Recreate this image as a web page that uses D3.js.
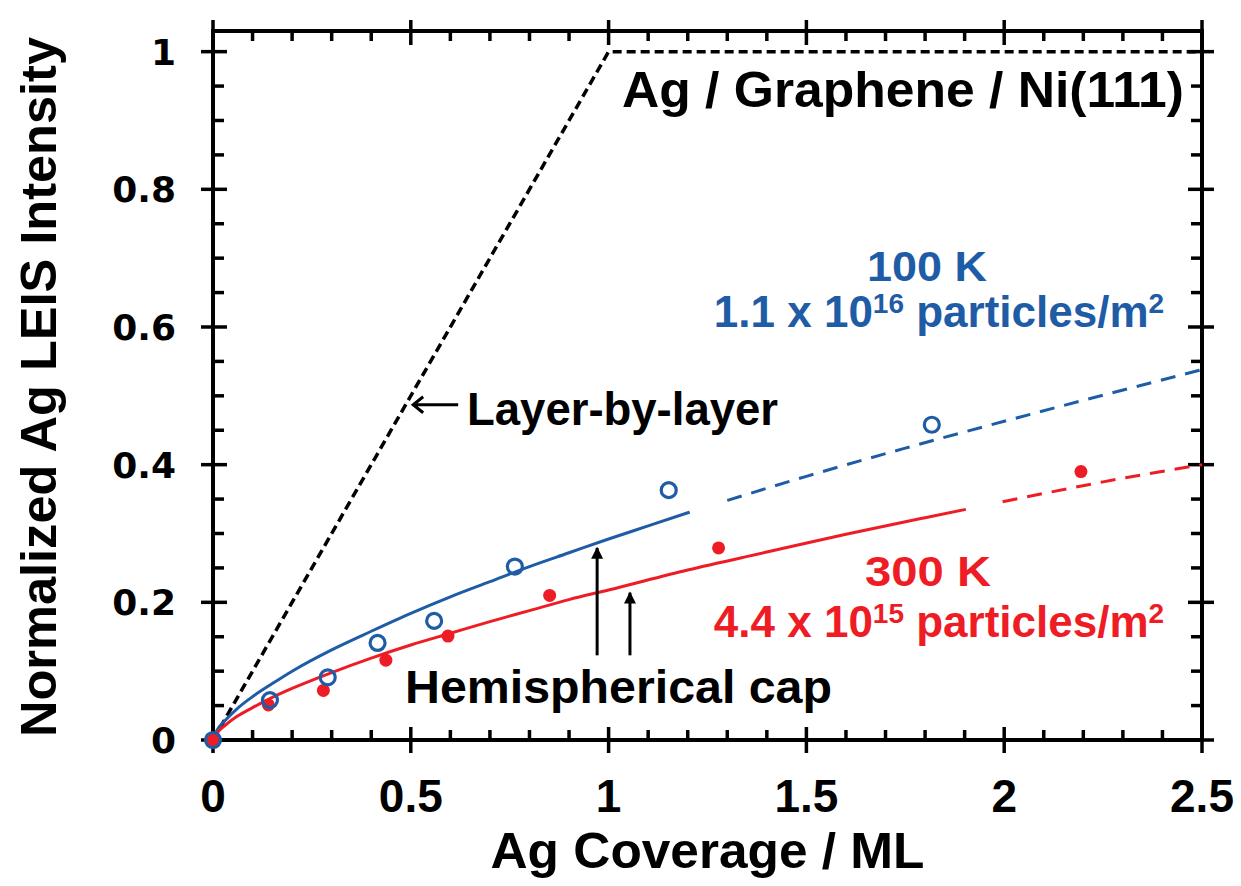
<!DOCTYPE html>
<html lang="en">
<head>
<meta charset="UTF-8">
<title>Ag LEIS Intensity vs Ag Coverage</title>
<script src="https://d3js.org/d3.v7.min.js"></script>
<style>
  body { margin: 0; background: #fff; }
  svg { display: block; }
  text { font-family: "Liberation Sans", Arial, sans-serif; font-weight: bold; }
  .ylab { font-family: "DejaVu Sans", sans-serif; }
</style>
</head>
<body>
<svg id="chart" width="1241" height="886"></svg>
<script>
// measured points (coverage in ML, normalized intensity)
const blueX = [0, 0.144, 0.29, 0.416, 0.559, 0.763, 1.152, 1.817];
const blueY = [0, 0.058, 0.091, 0.141, 0.173, 0.252, 0.363, 0.458];
const redX = [0, 0.14, 0.279, 0.437, 0.594, 0.851, 1.278, 2.194];
const redY = [0, 0.051, 0.072, 0.116, 0.151, 0.21, 0.279, 0.39];

// hemispherical cap model curves
const blueFitX = [0, 0.01, 0.03, 0.06, 0.1, 0.15, 0.2, 0.3, 0.4, 0.5, 0.6, 0.7, 0.8, 0.9, 1.0, 1.1, 1.205];
const blueFitY = [0, 0.014, 0.028, 0.045, 0.063, 0.082, 0.1, 0.131, 0.158, 0.184, 0.208, 0.23, 0.252, 0.272, 0.292, 0.311, 0.331];
const blueExtX = [1.3, 1.5, 1.75, 2.0, 2.25, 2.5];
const blueExtY = [0.348, 0.383, 0.424, 0.463, 0.501, 0.538];
const redFitX = [0, 0.01, 0.03, 0.06, 0.1, 0.15, 0.2, 0.3, 0.4, 0.5, 0.6, 0.7, 0.8, 0.9, 1.0, 1.2, 1.4, 1.6, 1.8, 1.903];
const redFitY = [0, 0.01, 0.021, 0.034, 0.047, 0.062, 0.075, 0.098, 0.119, 0.138, 0.155, 0.172, 0.188, 0.204, 0.218, 0.247, 0.273, 0.299, 0.323, 0.335];
const redExtX = [1.996, 2.25, 2.5];
const redExtY = [0.346, 0.375, 0.40];

// layer-by-layer growth
const layerX = [0, 1, 2.5];
const layerY = [0, 1, 1];

// tick labels
const xTickLabels = ["0", "0.5", "1", "1.5", "2", "2.5"];
const yTickLabels = ["0", "0.2", "0.4", "0.6", "0.8", "1"];

const svg = d3.select("#chart");
const blue = "#1f5ca6", red = "#ee1c24";

const x = d3.scaleLinear().domain([0, 2.5]).range([213, 1202]);
const y = d3.scaleLinear().domain([0, 1.03]).range([740, 31]);

const x0 = x(0), x1 = x(2.5), y0 = y(0), y1 = y(1.03);

// frame
svg.append("rect")
    .attr("x", x0).attr("y", y1)
    .attr("width", x1 - x0).attr("height", y0 - y1)
    .attr("fill", "none").attr("stroke", "black").attr("stroke-width", 4);

// ticks
const tick = (a, b, c, d) => svg.append("line")
    .attr("x1", a).attr("y1", b).attr("x2", c).attr("y2", d)
    .attr("stroke", "black").attr("stroke-width", 3.5);

d3.range(0, 26).forEach(i => {
    const v = i / 10, px = x(v);
    if (i % 5 === 0) {
        tick(px, y0 - 13, px, y0 + 13);
        tick(px, y1 - 11, px, y1 + 14);
    } else {
        tick(px, y0, px, y0 - 10);
        tick(px, y1, px, y1 + 10);
    }
});
d3.range(0, 21).forEach(i => {
    const v = i / 20, py = y(v);
    if (i % 4 === 0) {
        tick(x0 - 12, py, x0 + 14, py);
        tick(x1 - 14, py, x1 + 12, py);
    } else {
        tick(x0, py, x0 + 11, py);
        tick(x1, py, x1 - 11, py);
    }
});

// tick labels
svg.selectAll(".xlab").data(xTickLabels).enter().append("text")
    .attr("class", "xlab")
    .attr("x", d => x(+d)).attr("y", 812)
    .attr("text-anchor", "middle")
    .attr("font-size", 46)
    .text(d => d);

svg.selectAll(".ylab").data(yTickLabels).enter().append("text")
    .attr("class", "ylab")
    .attr("x", 176).attr("y", d => y(+d))
    .attr("dy", "0.36em")
    .attr("text-anchor", "end")
    .attr("font-size", 36)
    .text(d => d);

// axis titles
svg.append("text")
    .attr("x", (x0 + x1) / 2).attr("y", 868)
    .attr("text-anchor", "middle")
    .attr("font-size", 50)
    .attr("textLength", 434).attr("lengthAdjust", "spacingAndGlyphs")
    .text("Ag Coverage / ML");

svg.append("text")
    .attr("transform", "translate(56," + 387 + ") rotate(-90)")
    .attr("text-anchor", "middle")
    .attr("font-size", 50)
    .attr("textLength", 700).attr("lengthAdjust", "spacingAndGlyphs")
    .text("Normalized Ag LEIS Intensity");

// lines
const line = d3.line().x(d => x(d[0])).y(d => y(d[1]));
const smooth = d3.line().x(d => x(d[0])).y(d => y(d[1])).curve(d3.curveMonotoneX);
const zip = (a, b) => a.map((v, i) => [v, b[i]]);

svg.append("path").attr("d", line(zip(layerX, layerY)))
    .attr("fill", "none").attr("stroke", "black")
    .attr("stroke-width", 3.5).attr("stroke-dasharray", "9,5");

svg.append("path").attr("d", smooth(zip(blueFitX, blueFitY)))
    .attr("fill", "none").attr("stroke", blue).attr("stroke-width", 3);
svg.append("path").attr("d", smooth(zip(blueExtX, blueExtY)))
    .attr("fill", "none").attr("stroke", blue).attr("stroke-width", 3)
    .attr("stroke-dasharray", "15,10");
svg.append("path").attr("d", smooth(zip(redFitX, redFitY)))
    .attr("fill", "none").attr("stroke", red).attr("stroke-width", 3);
svg.append("path").attr("d", smooth(zip(redExtX, redExtY)))
    .attr("fill", "none").attr("stroke", red).attr("stroke-width", 3)
    .attr("stroke-dasharray", "15,10");

// points
svg.selectAll(".red").data(zip(redX, redY)).enter().append("circle")
    .attr("class", "red")
    .attr("cx", d => x(d[0])).attr("cy", d => y(d[1]))
    .attr("r", 6.5).attr("fill", red);
svg.selectAll(".blue").data(zip(blueX, blueY)).enter().append("circle")
    .attr("class", "blue")
    .attr("cx", d => x(d[0])).attr("cy", d => y(d[1]))
    .attr("r", 7.5).attr("fill", "none")
    .attr("stroke", blue).attr("stroke-width", 3.2);

// arrows
const defs = svg.append("defs");
defs.append("marker")
    .attr("id", "head")
    .attr("viewBox", "0 0 10 10")
    .attr("refX", 9).attr("refY", 5)
    .attr("markerWidth", 4.5).attr("markerHeight", 4)
    .attr("markerUnits", "strokeWidth")
    .attr("orient", "auto")
    .append("path").attr("d", "M0,0 L10,5 L0,10 Z").attr("fill", "black");

const arrow = (xa, ya, xb, yb) => svg.append("line")
    .attr("x1", x(xa)).attr("y1", y(ya)).attr("x2", x(xb)).attr("y2", y(yb))
    .attr("stroke", "black").attr("stroke-width", 3)
    .attr("marker-end", "url(#head)");

arrow(0.971, 0.123, 0.971, 0.279);
arrow(1.054, 0.123, 1.054, 0.214);

// layer-by-layer pointer (open arrowhead)
const lx = x(0.506), ly = y(0.487);
svg.append("path")
    .attr("d", `M${lx + 45},${ly} L${lx},${ly} M${lx + 10},${ly - 8} L${lx},${ly} L${lx + 10},${ly + 8}`)
    .attr("fill", "none").attr("stroke", "black").attr("stroke-width", 3);

// annotations
const label = (tx, ty, size, color, txt, len, anchor) => {
    const t = svg.append("text")
        .attr("x", tx).attr("y", ty)
        .attr("font-size", size).attr("fill", color)
        .attr("text-anchor", anchor || "start")
        .text(txt);
    if (len) t.attr("textLength", len).attr("lengthAdjust", "spacingAndGlyphs");
    return t;
};

label(622, 107, 50, "black", "Ag / Graphene / Ni(111)", 562);
label(467, 425, 46, "black", "Layer-by-layer", 311);
label(405, 703, 46, "black", "Hemispherical cap", 427);

label(927, 281, 42, blue, "100 K", 120, "middle");
label(928, 586, 42, red, "300 K", 126, "middle");

const sciLabel = (ty, color, mant, exp) => {
    const t = svg.append("text")
        .attr("x", 939).attr("y", ty)
        .attr("text-anchor", "middle")
        .attr("font-size", 44).attr("fill", color);
    t.append("tspan").text(mant + " x 10");
    t.append("tspan").attr("font-size", 28).attr("dy", -14).text(exp);
    t.append("tspan").attr("dy", 14).text(" particles/m");
    t.append("tspan").attr("font-size", 28).attr("dy", -14).text("2");
};
sciLabel(327, blue, "1.1", "16");
sciLabel(637, red, "4.4", "15");
</script>
</body>
</html>
